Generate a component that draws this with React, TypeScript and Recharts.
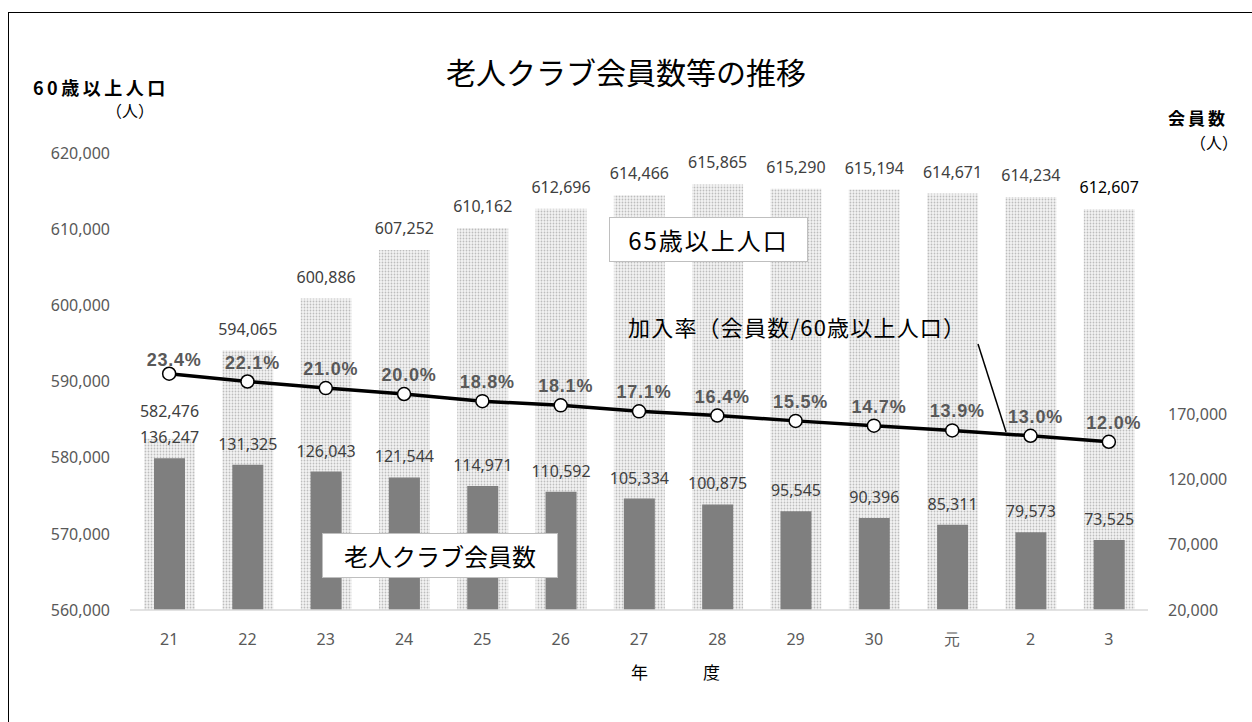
import { ComposedChart, Bar, Line, XAxis, YAxis, LabelList } from "recharts";

const years = ["21", "22", "23", "24", "25", "26", "27", "28", "29", "30", "元", "2", "3"];
const population60 = [582476, 594065, 600886, 607252, 610162, 612696, 614466, 615865, 615290, 615194, 614671, 614234, 612607];
const clubMembers = [136247, 131325, 126043, 121544, 114971, 110592, 105334, 100875, 95545, 90396, 85311, 79573, 73525];
const joinRate = [23.4, 22.1, 21.0, 20.0, 18.8, 18.1, 17.1, 16.4, 15.5, 14.7, 13.9, 13.0, 12.0];

const leftTicks = [560000, 570000, 580000, 590000, 600000, 610000, 620000];
const rightTicks = [20000, 70000, 120000, 170000];

const data = years.map((year, i) => ({
  year,
  pop: population60[i],
  members: clubMembers[i],
  rate: joinRate[i],
}));

const JP = '"Noto Sans CJK JP", "Noto Sans", sans-serif';
const NUM = '"Noto Sans", "Open Sans", sans-serif';

const fmt = (v: number) => String(v).replace(/\B(?=(\d{3})+(?!\d))/g, ",");

function PopLabel(props: any) {
  const { x, y, width, value, index } = props;
  // first label sits a bit higher so it clears the member count label
  const lift = index === 0 ? 6 : 0;
  const last = index === years.length - 1;
  return (
    <text x={Number(x) + Number(width) / 2} y={Number(y) - 22 - lift} textAnchor="middle"
      dominantBaseline="central" fontSize={16} fontFamily={NUM} fill={last ? "#000" : "#404040"}>
      {fmt(value)}
    </text>
  );
}

function MemberLabel(props: any) {
  const { x, y, width, value } = props;
  return (
    <text x={Number(x) + Number(width) / 2} y={Number(y) - 21} textAnchor="middle"
      dominantBaseline="central" fontSize={16} fontFamily={NUM} fill="#404040">
      {fmt(value)}
    </text>
  );
}

function RateLabel(props: any) {
  const { x, y, value, index } = props;
  const drop = index === 0 ? 5 : 0;
  return (
    <text x={Number(x) + 5} y={Number(y) - 19 + drop} textAnchor="middle" dominantBaseline="central"
      fontSize={18} fontWeight="bold" letterSpacing={0.8}
      fontFamily='"Liberation Sans", Arial, sans-serif' fill="#595959">
      {Number(value).toFixed(1)}%
    </text>
  );
}

const abs = (left: number, top: number, extra: React.CSSProperties = {}): React.CSSProperties => ({
  position: "absolute", left, top, fontFamily: JP, whiteSpace: "nowrap", lineHeight: 1, ...extra,
});

export default function App() {
  return (
    <div style={{ position: "absolute", left: 0, top: 0, width: 1252, height: 722, overflow: "hidden", background: "#fff" }}>
      <svg width={0} height={0} style={{ position: "absolute" }}>
        <defs>
          <pattern id="dots" patternUnits="userSpaceOnUse" width={3} height={3}>
            <rect width={3} height={3} fill="#f4f4f4" />
            <circle cx={1.5} cy={1.5} r={0.9} fill="#bdbdbd" />
          </pattern>
        </defs>
      </svg>

      <div style={{ position: "absolute", left: 8, top: 12, width: 1260, height: 720, borderLeft: "1.5px solid #000", borderTop: "1.5px solid #000" }} />

      <div style={{ position: "absolute", left: 0, top: 0 }}>
        <ComposedChart width={1252} height={722} data={data}
          margin={{ top: 153, right: 24, bottom: 82, left: 50 }}>
          <XAxis xAxisId="x" dataKey="year" tickLine={false} tickSize={0} tickMargin={24}
            axisLine={{ stroke: "#d9d9d9", strokeWidth: 1.5 }} height={30}
            tick={{ fontSize: 16, fill: "#595959", fontFamily: NUM }} />
          <XAxis xAxisId="x2" dataKey="year" hide />
          <YAxis yAxisId="left" orientation="left" domain={[560000, 620000]} ticks={leftTicks}
            width={80} axisLine={false} tickLine={false} tickSize={0} tickMargin={20}
            tickFormatter={fmt} tick={{ fontSize: 16, fill: "#595959", fontFamily: NUM }} />
          <YAxis yAxisId="right" orientation="right" domain={[20000, 370000]} ticks={rightTicks}
            width={80} axisLine={false} tickLine={false} tickSize={0} tickMargin={20}
            tickFormatter={fmt} tick={{ fontSize: 16, fill: "#595959", fontFamily: NUM, textAnchor: "start" }} />
          <YAxis yAxisId="rate" hide domain={[-16.2, 60.4]} />

          <Bar xAxisId="x" yAxisId="left" dataKey="pop" barSize={51} fill="url(#dots)" isAnimationActive={false}>
            <LabelList dataKey="pop" content={PopLabel} />
          </Bar>
          <Bar xAxisId="x2" yAxisId="right" dataKey="members" barSize={31} fill="#7f7f7f" isAnimationActive={false}>
            <LabelList dataKey="members" content={MemberLabel} />
          </Bar>
          <Line xAxisId="x" yAxisId="rate" dataKey="rate" stroke="#000" strokeWidth={3.5}
            dot={{ r: 6.5, fill: "#fff", stroke: "#000", strokeWidth: 1.5 }} activeDot={false}
            isAnimationActive={false}>
            <LabelList dataKey="rate" content={RateLabel} />
          </Line>
        </ComposedChart>
      </div>

      <div style={abs(0, 56, { width: 1252, textAlign: "center", fontSize: 30, color: "#000" })}>老人クラブ会員数等の推移</div>

      <div style={abs(33, 78, { fontSize: 18, fontWeight: "bold", letterSpacing: 3.5, color: "#000" })}>60歳以上人口</div>
      <div style={abs(106, 102, { fontSize: 16, color: "#000" })}>（人）</div>
      <div style={abs(1168, 109, { fontSize: 17, fontWeight: "bold", letterSpacing: 3, color: "#000" })}>会員数</div>
      <div style={abs(1190, 134, { fontSize: 16, color: "#000" })}>（人）</div>

      <div style={abs(609, 217, { width: 197, height: 43, border: "1.5px solid #bfbfbf", background: "#fff",
        display: "flex", alignItems: "center", justifyContent: "center", fontSize: 24, letterSpacing: 2, color: "#000" })}>65歳以上人口</div>

      <div style={abs(628, 315, { fontSize: 22, letterSpacing: 1.2, color: "#000" })}>加入率（会員数/60歳以上人口）</div>
      <svg width={1252} height={722} style={{ position: "absolute", left: 0, top: 0, pointerEvents: "none" }}>
        <line x1={978} y1={344} x2={1006} y2={432} stroke="#000" strokeWidth={1.5} />
      </svg>

      <div style={abs(322, 533, { width: 234, height: 43, border: "1.5px solid #bfbfbf", background: "#fff",
        display: "flex", alignItems: "center", justifyContent: "center", fontSize: 24, color: "#000" })}>老人クラブ会員数</div>

      <div style={abs(631, 663, { fontSize: 17, color: "#000" })}>年</div>
      <div style={abs(703, 663, { fontSize: 17, color: "#000" })}>度</div>
    </div>
  );
}
